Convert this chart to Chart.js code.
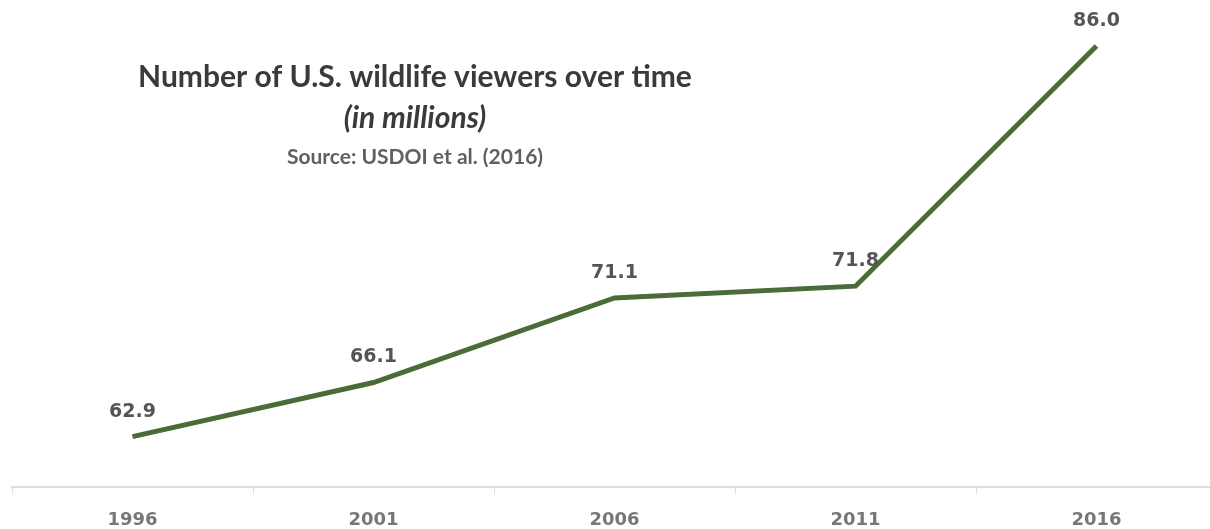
<!DOCTYPE html>
<html lang="en">
<head>
    <meta charset="UTF-8">
    <title>Number of U.S. wildlife viewers over time</title>
    <script src="https://cdn.jsdelivr.net/npm/chart.js"></script>
    <style>
        html, body { margin: 0; padding: 0; background: #fff; overflow: hidden; }
        #wrap { position: relative; width: 1217px; height: 549px; }
    </style>
</head>
<body>
    <div id="wrap">
        <canvas id="viewersChart"></canvas>
    </div>
    <script>
        // Datos
        var years = ['1996', '2001', '2006', '2011', '2016'];
        var viewers = [62.9, 66.1, 71.1, 71.8, 86.0];
        var titleLines = ['Number of U.S. wildlife viewers over time', '(in millions)', 'Source: USDOI et al. (2016)'];

        // Etiquetas de valor sobre cada punto
        var pointLabels = {
            id: 'pointLabels',
            afterDatasetsDraw: function(chart) {
                var ctx = chart.ctx;
                var meta = chart.getDatasetMeta(0);
                ctx.save();
                ctx.font = 'bold 19px "DejaVu Sans"';
                ctx.fillStyle = '#555555';
                ctx.textAlign = 'center';
                ctx.textBaseline = 'middle';
                meta.data.forEach(function(pt, i) {
                    ctx.fillText(viewers[i].toFixed(1), pt.x, pt.y - 25);
                });
                ctx.restore();
            }
        };

        // Titulo dentro del area del grafico
        var innerTitle = {
            id: 'innerTitle',
            afterDraw: function(chart) {
                var ctx = chart.ctx;
                var a = chart.chartArea;
                var cx = a.left + 403;
                ctx.save();
                ctx.textAlign = 'center';
                ctx.textBaseline = 'middle';
                ctx.fillStyle = '#3a3a3a';
                ctx.font = 'bold 30px Lato';
                ctx.fillText(titleLines[0], cx, a.top + 77);
                ctx.font = 'italic bold 30px Lato';
                ctx.fillText(titleLines[1], cx, a.top + 118);
                ctx.fillStyle = '#606060';
                ctx.font = 'bold 21px Lato';
                ctx.fillText(titleLines[2], cx, a.top + 157);
                ctx.restore();
            }
        };

        var viewersChart = new Chart(document.getElementById('viewersChart').getContext('2d'), {
            type: 'line',
            data: {
                labels: years,
                datasets: [{
                    label: 'Wildlife viewers',
                    data: viewers,
                    borderColor: '#4b6b38',
                    borderWidth: 5,
                    pointRadius: 0,
                    fill: false,
                    tension: 0
                }]
            },
            options: {
                responsive: true,
                maintainAspectRatio: false,
                animation: false,
                layout: { padding: { left: 12, right: 0, top: 0, bottom: 2 } },
                plugins: {
                    legend: { display: false },
                    tooltip: { enabled: false }
                },
                scales: {
                    x: {
                        offset: true,
                        grid: {
                            offset: true,
                            drawOnChartArea: false,
                            drawTicks: true,
                            tickLength: 6,
                            color: '#dddddd'
                        },
                        border: { color: '#dddddd', width: 2 },
                        ticks: {
                            color: '#777777',
                            font: { family: 'DejaVu Sans', weight: 'bold', size: 18 },
                            padding: 16
                        }
                    },
                    y: {
                        display: false,
                        min: 59.9,
                        max: 88.72
                    }
                }
            },
            plugins: [pointLabels, innerTitle]
        });
    </script>
</body>
</html>
